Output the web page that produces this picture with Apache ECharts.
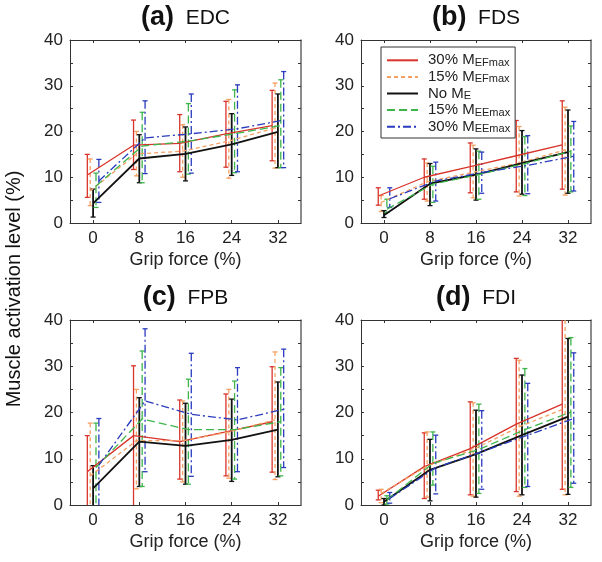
<!DOCTYPE html>
<html>
<head>
<meta charset="utf-8">
<script src="https://cdn.jsdelivr.net/npm/echarts@6/dist/echarts.min.js"></script>
<style>
html, body { margin: 0; padding: 0; background: #fff; }
#chart { width: 602px; height: 562px; }
</style>
</head>
<body>
<div id="chart"></div>
<script>
var forces = [0, 8, 16, 24, 32];
var yTicks = [0, 10, 20, 30, 40];
var conditions = ['30% MEFmax', '15% MEFmax', 'No ME', '15% MEEmax', '30% MEEmax'];
var panelTags = ['(a)', '(b)', '(c)', '(d)'];
var muscles = ['EDC', 'FDS', 'FPB', 'FDI'];

// rows follow conditions, columns follow forces
var edcMean = [
  [10.5, 17.0, 17.4, 19.5, 21.3],
  [7.0, 15.1, 15.7, 17.9, 20.8],
  [4.3, 14.1, 15.1, 17.2, 19.9],
  [8.1, 16.8, 17.9, 19.5, 21.3],
  [9.2, 18.6, 19.5, 20.6, 22.5]
];
var edcLow = [
  [5.6, 11.7, 11.2, 12.2, 13.6],
  [3.8, 10.3, 10.0, 9.8, 12.0],
  [1.3, 8.8, 9.2, 10.4, 12.1],
  [3.4, 8.8, 10.7, 11.0, 12.1],
  [4.5, 10.8, 10.9, 11.2, 12.1]
];
var edcHigh = [
  [15.0, 22.5, 23.7, 26.6, 29.0],
  [14.0, 20.0, 21.5, 27.0, 30.6],
  [7.4, 19.3, 21.0, 23.9, 28.2],
  [10.9, 24.2, 26.1, 29.1, 31.3],
  [13.9, 26.7, 28.2, 30.2, 33.1]
];

var fdsMean = [
  [5.9, 10.0, 12.3, 14.7, 17.1],
  [4.5, 9.0, 11.1, 13.1, 16.0],
  [1.7, 8.6, 10.6, 13.1, 15.5],
  [3.0, 8.5, 10.6, 13.0, 15.7],
  [5.3, 9.2, 11.0, 12.6, 14.6]
];
var fdsLow = [
  [3.9, 5.2, 6.6, 6.8, 7.4],
  [2.5, 4.8, 5.5, 5.9, 6.1],
  [1.2, 3.8, 5.0, 6.3, 6.5],
  [2.3, 4.5, 5.2, 6.0, 6.8],
  [3.4, 4.8, 6.5, 6.4, 7.0]
];
var fdsHigh = [
  [7.7, 14.0, 17.5, 22.4, 26.7],
  [6.0, 13.1, 17.0, 21.1, 25.3],
  [2.7, 13.0, 16.2, 20.2, 24.7],
  [5.2, 12.4, 15.7, 18.9, 21.2],
  [7.7, 13.3, 15.5, 19.1, 22.2]
];

var fpbMean = [
  [7.2, 15.0, 13.7, 15.8, 18.0],
  [6.3, 13.9, 13.9, 15.8, 18.4],
  [3.6, 13.7, 12.8, 14.1, 16.3],
  [8.1, 18.6, 16.3, 16.3, 18.0],
  [8.6, 22.5, 19.6, 18.4, 20.7]
];
var fpbLow = [
  [-1, -1, 5.6, 6.3, 7.1],
  [-1, 3.5, 5.0, 5.8, 5.5],
  [-1, 4.0, 4.5, 5.1, 6.1],
  [-1, 4.0, 4.5, 5.6, 6.3],
  [-1, 7.2, 6.2, 7.2, 8.1]
];
var fpbHigh = [
  [15.0, 30.1, 22.7, 24.0, 29.9],
  [17.7, 25.0, 22.5, 25.0, 33.1],
  [8.5, 23.2, 22.0, 22.9, 26.6],
  [17.7, 33.3, 27.2, 26.8, 29.7],
  [18.7, 38.1, 32.8, 29.7, 33.7]
];

var fdiMean = [
  [1.9, 8.3, 12.2, 17.5, 21.8],
  [2.5, 8.4, 12.0, 16.9, 20.9],
  [0.7, 7.6, 11.0, 15.1, 19.1],
  [1.1, 9.0, 12.0, 16.3, 20.1],
  [1.4, 8.1, 11.5, 15.1, 18.7]
];
var fdiLow = [
  [1.1, 1.4, 2.2, 2.9, 3.4],
  [0.5, 1.7, 1.9, 1.9, 2.2],
  [0.0, 0.9, 1.7, 2.2, 2.3],
  [0.2, 4.3, 2.5, 3.8, 3.8],
  [0.4, 2.4, 3.4, 4.0, 4.7]
];
var fdiHigh = [
  [3.2, 15.6, 22.3, 31.7, 42.0],
  [3.4, 15.8, 22.1, 31.3, 41.0],
  [1.4, 14.2, 20.5, 28.1, 36.0],
  [2.0, 15.8, 21.8, 29.5, 36.2],
  [2.7, 15.1, 20.4, 26.3, 32.9]
];

var means = [edcMean, fdsMean, fpbMean, fdiMean];
var lows = [edcLow, fdsLow, fpbLow, fdiLow];
var highs = [edcHigh, fdsHigh, fpbHigh, fdiHigh];

// look of each condition
var colors = ['#d8342b', '#f5a062', '#111111', '#3db54a', '#2a3bbd'];
var dashes = [null, [4, 3], null, [8, 4], [8, 3, 2, 3]];
var widths = [1.3, 1.3, 1.8, 1.3, 1.3];
var offsets = [-1, -0.5, 0, 0.5, 1];

var font = 'Liberation Sans, Arial, sans-serif';
var axisColor = '#333';

var grids = [
  { left: 70, top: 40, width: 231, height: 183 },
  { left: 361, top: 40, width: 230, height: 183 },
  { left: 70, top: 320, width: 231, height: 185 },
  { left: 361, top: 320, width: 230, height: 185 }
];

var xAxes = [], yAxes = [], series = [], graphics = [];

grids.forEach(function (g, p) {
  xAxes.push({
    gridIndex: p, type: 'value', min: -4, max: 36, position: 'bottom',
    axisLine: { show: true, onZero: false, lineStyle: { color: axisColor } },
    axisTick: { show: true, inside: true, length: 3, customValues: forces, lineStyle: { color: axisColor } },
    axisLabel: { customValues: forces, fontSize: 17, color: '#222', margin: 7, fontFamily: font },
    splitLine: { show: false },
    name: 'Grip force (%)', nameLocation: 'middle', nameGap: 28,
    nameTextStyle: { fontSize: 18, color: '#222', fontFamily: font }
  });
  xAxes.push({
    gridIndex: p, type: 'value', min: -4, max: 36, position: 'top',
    axisLine: { show: true, onZero: false, lineStyle: { color: axisColor } },
    axisTick: { show: true, inside: true, length: 3, customValues: forces, lineStyle: { color: axisColor } },
    axisLabel: { show: false },
    splitLine: { show: false }
  });
  yAxes.push({
    gridIndex: p, type: 'value', min: 0, max: 40, interval: 10, position: 'left',
    axisLine: { show: true, onZero: false, lineStyle: { color: axisColor } },
    axisTick: { show: true, inside: true, length: 3, lineStyle: { color: axisColor } },
    minorTick: { show: true, splitNumber: 2, length: 3, lineStyle: { color: axisColor } },
    axisLabel: { fontSize: 17, color: '#222', margin: 7, fontFamily: font },
    splitLine: { show: false }
  });
  yAxes.push({
    gridIndex: p, type: 'value', min: 0, max: 40, interval: 10, position: 'right',
    axisLine: { show: true, onZero: false, lineStyle: { color: '#666', width: 1.5 } },
    axisTick: { show: true, inside: true, length: 3, lineStyle: { color: axisColor } },
    minorTick: { show: true, splitNumber: 2, length: 3, lineStyle: { color: axisColor } },
    axisLabel: { show: false },
    splitLine: { show: false }
  });

  graphics.push({
    type: 'text',
    x: g.left + g.width / 2,
    y: g.top - 22,
    style: {
      text: '{b|' + panelTags[p] + '}{n|  ' + muscles[p] + '}',
      textAlign: 'center', textVerticalAlign: 'middle',
      rich: {
        b: { fontSize: 27, fontWeight: 'bold', fontFamily: font, fill: '#111' },
        n: { fontSize: 21, fontFamily: font, fill: '#111' }
      }
    }
  });
});

function errorBar(k) {
  return function (params, api) {
    var x = api.value(0);
    var top = api.coord([x, api.value(2)]);
    var bot = api.coord([x, api.value(1)]);
    var cs = params.coordSys;
    var yMin = cs.y, yMax = cs.y + cs.height;
    var t = Math.max(top[1], yMin), b = Math.min(bot[1], yMax);
    var style = { stroke: colors[k], lineWidth: widths[k], lineDash: dashes[k], fill: null };
    var cap = { stroke: colors[k], lineWidth: 1.3, fill: null };
    var kids = [{ type: 'line', shape: { x1: top[0], y1: t, x2: top[0], y2: b }, style: style }];
    if (top[1] >= yMin) {
      kids.push({ type: 'line', shape: { x1: top[0] - 2.5, y1: top[1], x2: top[0] + 2.5, y2: top[1] }, style: cap });
    }
    if (bot[1] <= yMax) {
      kids.push({ type: 'line', shape: { x1: bot[0] - 2.5, y1: bot[1], x2: bot[0] + 2.5, y2: bot[1] }, style: cap });
    }
    return { type: 'group', children: kids };
  };
}

// lines first so the legend takes its icons from them
grids.forEach(function (g, p) {
  conditions.forEach(function (name, k) {
    series.push({
      type: 'line', name: name,
      xAxisIndex: p * 2, yAxisIndex: p * 2,
      data: forces.map(function (f, j) { return [f + offsets[k], means[p][k][j]]; }),
      symbol: 'none', silent: true, z: 3,
      lineStyle: { color: colors[k], width: widths[k], type: dashes[k] || 'solid' },
      itemStyle: { color: colors[k] }
    });
  });
});
grids.forEach(function (g, p) {
  conditions.forEach(function (name, k) {
    series.push({
      type: 'custom', name: name,
      xAxisIndex: p * 2, yAxisIndex: p * 2,
      data: forces.map(function (f, j) { return [f + offsets[k], lows[p][k][j], highs[p][k][j]]; }),
      encode: { x: 0, y: [1, 2] },
      renderItem: errorBar(k), silent: true, z: 2
    });
  });
});

graphics.push({
  type: 'text', x: 14, y: 289, rotation: Math.PI / 2,
  style: {
    text: 'Muscle activation level (%)', fontSize: 20, fontFamily: font, fill: '#111',
    textAlign: 'center', textVerticalAlign: 'middle'
  }
});

var chart = echarts.init(document.getElementById('chart'));
chart.setOption({
  animation: false,
  textStyle: { fontFamily: font },
  grid: grids,
  xAxis: xAxes,
  yAxis: yAxes,
  legend: {
    data: conditions, orient: 'vertical', left: 381, top: 47,
    padding: [5, 5, 3, 5], itemGap: 0, itemWidth: 31, itemHeight: 12,
    backgroundColor: '#fff', borderColor: '#333', borderWidth: 1, borderRadius: 0,
    itemStyle: { opacity: 0 },
    formatter: function (name) { return name.replace(/M(E\w*)$/, 'M{s|$1}'); },
    textStyle: {
      fontSize: 15, color: '#222', fontFamily: font, lineHeight: 16.6, padding: [0, 0, 0, 5],
      rich: { s: { fontSize: 11, fontFamily: font, color: '#222', padding: [5, 0, 0, 0] } }
    }
  },
  graphic: graphics,
  series: series
});
</script>
</body>
</html>
